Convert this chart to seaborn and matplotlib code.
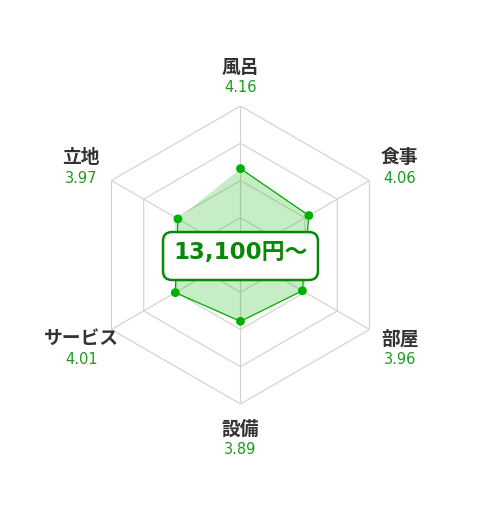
import numpy as np
import pandas as pd
import matplotlib
matplotlib.use("Agg")
import matplotlib.pyplot as plt
from matplotlib.patches import FancyBboxPatch
import seaborn as sns

# 評価項目と点数
categories = ["風呂", "食事", "部屋", "設備", "サービス", "立地"]
scores = [4.16, 4.06, 3.96, 3.89, 4.01, 3.97]
ring_levels = [3.5, 4.0, 4.5, 5.0]
price_label = "13,100円〜"

sns.set_theme(style="white")
plt.rcParams['font.family'] = ['DejaVu Sans', 'Noto Sans CJK JP']

n = len(categories)
angles = np.linspace(0, 2 * np.pi, n, endpoint=False)
df = pd.DataFrame({"cat": categories, "score": scores, "theta": angles})
df_closed = pd.concat([df, df.iloc[:1]], ignore_index=True)

fig = plt.figure(figsize=(4.8, 5.3), dpi=100)
ax = fig.add_axes([0.1906, 0.2377, 0.6208, 0.5623], projection='polar')
ax.set_theta_zero_location('N')
ax.set_theta_direction(-1)
ax.set_ylim(3, 5)
ax.grid(False)
ax.set_xticks([])
ax.set_yticks([])
ax.spines['polar'].set_visible(False)
ax.set_facecolor('white')

grid_col = '#d3d0cb'
th_closed = np.append(angles, angles[0])
# 六角形のグリッド
for lv in ring_levels:
    ax.plot(th_closed, [lv] * (n + 1), color=grid_col, lw=0.8, zorder=1)
for a in angles:
    ax.plot([a, a], [3, 5], color=grid_col, lw=0.8, zorder=1)

# データ
ax.fill(df_closed.theta, df_closed.score, color='#00b000', alpha=0.22, lw=0, zorder=2)
sns.lineplot(data=df_closed, x='theta', y='score', sort=False, color='#00a800',
             lw=0.9, ax=ax, zorder=3)
sns.scatterplot(data=df, x='theta', y='score', color='#00b000', s=40,
                edgecolor='none', ax=ax, zorder=4)
ax.set_xlabel('')
ax.set_ylabel('')

# ラベル
for a, c, s in zip(angles, categories, scores):
    dx = 1.8 * np.sign(round(np.sin(a), 3))
    ax.annotate(c, xy=(a, 5.43), xytext=(dx, 5), textcoords='offset points',
                ha='center', va='center', fontsize=13.5, fontweight='bold',
                color='#333333', annotation_clip=False)
    ax.annotate(f"{s:.2f}", xy=(a, 5.43), xytext=(dx, -10), textcoords='offset points',
                ha='center', va='center', fontsize=10.5, color='#1f9a1f',
                annotation_clip=False)

# 中央の料金
box = FancyBboxPatch((0.5 - 0.26, 0.4966 - 0.0805), 0.52, 0.161,
                     boxstyle='round,pad=0,rounding_size=0.03',
                     transform=ax.transAxes, fc='white', ec='#088808', lw=1.8,
                     zorder=5)
ax.add_patch(box)
ax.text(0.5, 0.507, price_label, transform=ax.transAxes, ha='center', va='center',
        fontsize=16.5, fontweight='bold', color='#088808', zorder=6)

fig.savefig('out.png', dpi=100)
